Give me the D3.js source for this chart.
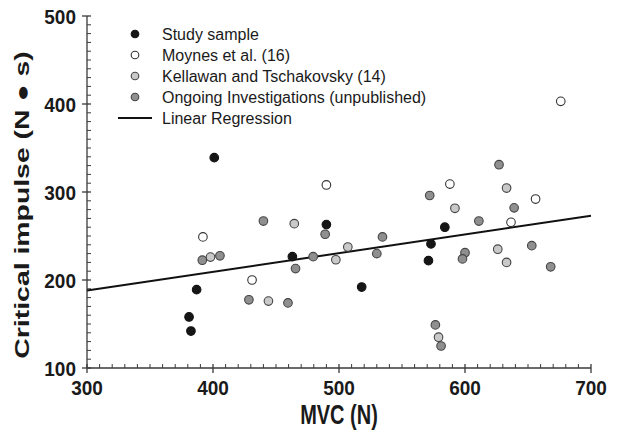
<!DOCTYPE html>
<html>
<head>
<meta charset="utf-8">
<script src="https://cdn.jsdelivr.net/npm/d3@7"></script>
<style>
  html, body { margin: 0; padding: 0; background: #fff; }
  svg { display: block; }
  text { font-family: "Liberation Sans", Arial, sans-serif; }
</style>
</head>
<body>
<svg id="chart" width="617" height="434"></svg>
<script>
// ---- data ----
const studyMVC     = [401, 387, 381, 382.5, 490, 463, 518, 584, 573, 571];
const studyImpulse = [339, 189, 158, 142, 263, 226.5, 192, 260, 241, 222];

const moynesMVC     = [392, 431, 490, 676, 588, 656, 636.5];
const moynesImpulse = [249, 200, 308, 403, 309, 292, 265.5];

const kellawanMVC     = [398, 444, 464.5, 507, 497.5, 633, 592, 626, 633, 579];
const kellawanImpulse = [226, 176, 264, 237.5, 223, 304.5, 281.5, 235, 220, 135];

const ongoingMVC     = [440, 391.5, 405.5, 428.5, 459.5, 489, 534.5, 530, 479.5, 465.5, 627, 572, 639, 611, 653, 600, 598, 668, 576.5, 581];
const ongoingImpulse = [267, 222.5, 227.5, 177.5, 174, 252, 249, 230, 226.5, 213, 331, 296, 282, 267, 239, 231, 224, 215, 149, 125];

const regressionMVC     = [300, 700];
const regressionImpulse = [188, 273];

const xTicks = [300, 400, 500, 600, 700];
const yTicks = [100, 200, 300, 400, 500];

const legendLabels = ["Study sample", "Moynes et al. (16)", "Kellawan and Tschakovsky (14)", "Ongoing Investigations (unpublished)", "Linear Regression"];

// ---- layout ----
const svg = d3.select("#chart");
const x = d3.scaleLinear().domain([300, 700]).range([87, 591]);
const y = d3.scaleLinear().domain([100, 500]).range([368, 16]);

const axisColor = "#3a3a3a";

// minor ticks (inward)
const xMinor = d3.range(300, 701, 10).filter(v => v % 100 !== 0);
const yMinor = d3.range(100, 501, 10).filter(v => v % 100 !== 0);

const gx = svg.append("g");
gx.append("line").attr("x1", x(300)).attr("x2", x(700)).attr("y1", y(100)).attr("y2", y(100))
  .attr("stroke", axisColor).attr("stroke-width", 1.3);
gx.selectAll("line.minor").data(xMinor).join("line").attr("class", "minor")
  .attr("x1", d => x(d)).attr("x2", d => x(d)).attr("y1", y(100)).attr("y2", y(100) - 4)
  .attr("stroke", axisColor).attr("stroke-width", 1);
gx.selectAll("line.major").data(xTicks).join("line").attr("class", "major")
  .attr("x1", d => x(d)).attr("x2", d => x(d)).attr("y1", y(100) - 4).attr("y2", y(100) + 5)
  .attr("stroke", axisColor).attr("stroke-width", 1.3);
gx.selectAll("text").data(xTicks).join("text")
  .attr("transform", d => `translate(${x(d)},395) scale(1,1.1)`)
  .attr("text-anchor", "middle").attr("font-size", 19).attr("font-weight", "bold").attr("fill", "#1a1a1a")
  .text(d => d);

const gy = svg.append("g");
gy.append("line").attr("x1", x(300)).attr("x2", x(300)).attr("y1", y(100)).attr("y2", y(500))
  .attr("stroke", axisColor).attr("stroke-width", 1.3);
gy.selectAll("line.minor").data(yMinor).join("line").attr("class", "minor")
  .attr("x1", x(300)).attr("x2", x(300) + 4).attr("y1", d => y(d)).attr("y2", d => y(d))
  .attr("stroke", axisColor).attr("stroke-width", 1);
gy.selectAll("line.major").data(yTicks).join("line").attr("class", "major")
  .attr("x1", x(300) - 5).attr("x2", x(300) + 4).attr("y1", d => y(d)).attr("y2", d => y(d))
  .attr("stroke", axisColor).attr("stroke-width", 1.3);
gy.selectAll("text").data(yTicks).join("text")
  .attr("transform", d => `translate(76,${y(d) + 7.5}) scale(1,1.1)`)
  .attr("text-anchor", "end").attr("font-size", 19).attr("font-weight", "bold").attr("fill", "#1a1a1a")
  .text(d => d);

// axis titles
svg.append("text")
  .attr("transform", `translate(${(x(300) + x(700)) / 2},424) scale(1,1.35)`)
  .attr("text-anchor", "middle").attr("font-size", 20).attr("font-weight", "bold").attr("fill", "#1a1a1a")
  .text("MVC (N)");
svg.append("text")
  .attr("transform", `translate(29,205) scale(1,1.42) rotate(-90)`)
  .attr("text-anchor", "middle").attr("font-size", 20).attr("font-weight", "bold").attr("fill", "#1a1a1a")
  .text("Critical impulse (N \u25CF s)");

// regression line
const line = d3.line().x(d => x(d[0])).y(d => y(d[1]));
svg.append("path")
  .datum(regressionMVC.map((v, i) => [v, regressionImpulse[i]]))
  .attr("d", line).attr("fill", "none").attr("stroke", "#111").attr("stroke-width", 2);

// series
const series = [
  { mvc: moynesMVC,   imp: moynesImpulse,   fill: "#ffffff", stroke: "#333" },
  { mvc: kellawanMVC, imp: kellawanImpulse, fill: "#c9c9c9", stroke: "#444" },
  { mvc: ongoingMVC,  imp: ongoingImpulse,  fill: "#8f8f8f", stroke: "#444" },
  { mvc: studyMVC,    imp: studyImpulse,    fill: "#161616", stroke: "#111" }
];
const R = 4.3;
series.forEach(s => {
  svg.append("g").selectAll("circle")
    .data(s.mvc.map((v, i) => [v, s.imp[i]]))
    .join("circle")
    .attr("cx", d => x(d[0])).attr("cy", d => y(d[1])).attr("r", R)
    .attr("fill", s.fill).attr("stroke", s.stroke).attr("stroke-width", 1.1);
});

// legend
const legendStyles = [
  { fill: "#161616", stroke: "#111" },
  { fill: "#ffffff", stroke: "#333" },
  { fill: "#c9c9c9", stroke: "#444" },
  { fill: "#8f8f8f", stroke: "#444" },
  null
];
const legendY = d3.scalePoint().domain(legendLabels).range([34, 118]);
const lg = svg.append("g");
legendLabels.forEach((lab, i) => {
  const yy = legendY(lab);
  const st = legendStyles[i];
  if (st) {
    lg.append("circle").attr("cx", 135).attr("cy", yy).attr("r", 3.8)
      .attr("fill", st.fill).attr("stroke", st.stroke).attr("stroke-width", 1.1);
  } else {
    lg.append("line").attr("x1", 118).attr("x2", 152).attr("y1", yy).attr("y2", yy)
      .attr("stroke", "#111").attr("stroke-width", 2);
  }
  lg.append("text").attr("x", 162).attr("y", yy + 5.5).attr("font-size", 16).attr("fill", "#1a1a1a").text(lab);
});
</script>
</body>
</html>
